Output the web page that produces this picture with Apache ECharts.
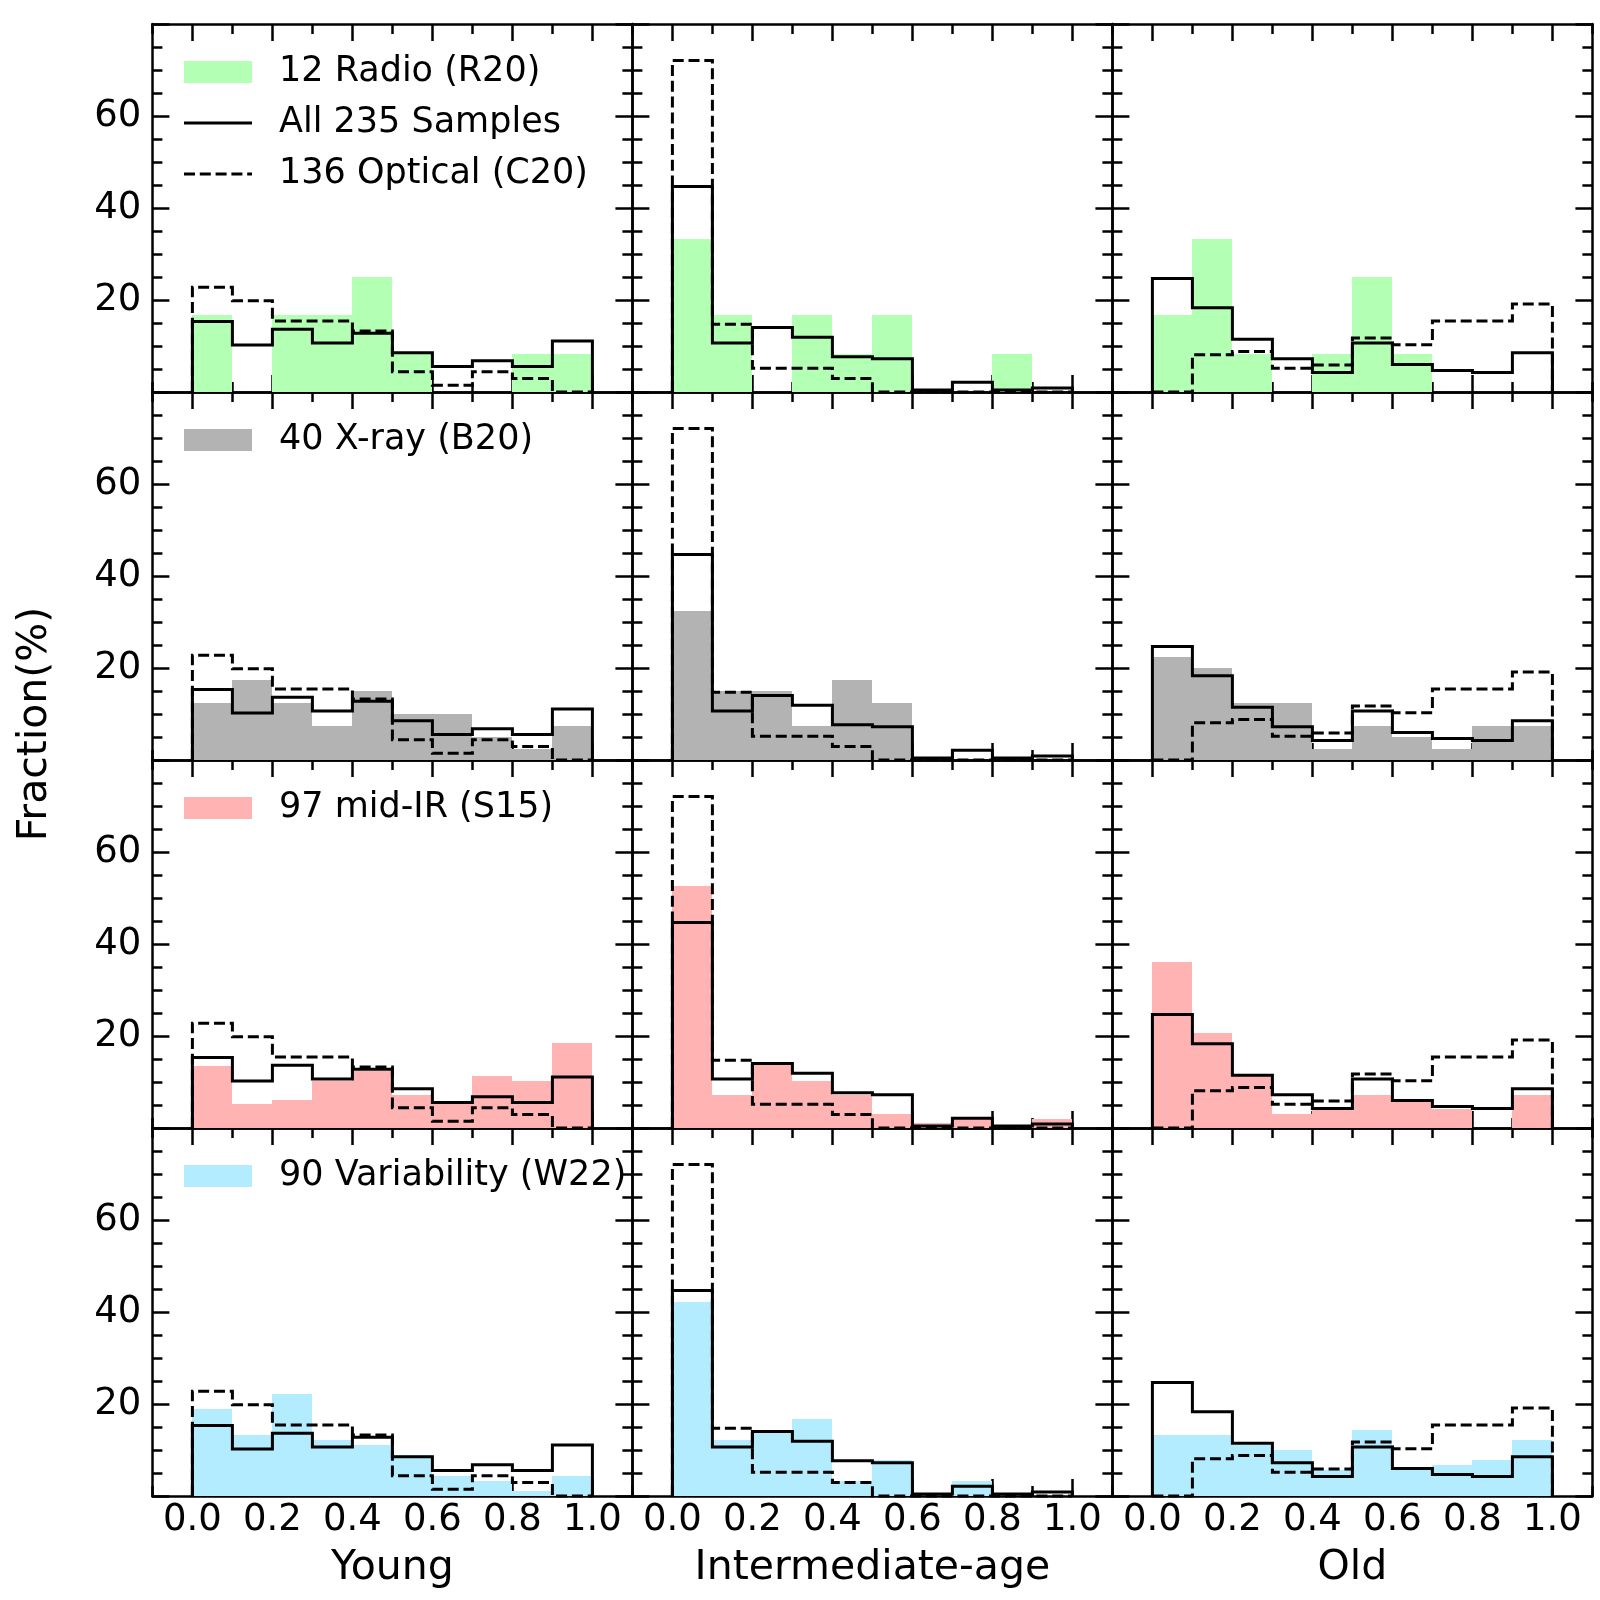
<!DOCTYPE html>
<html>
<head>
<meta charset="utf-8">
<script src="https://cdn.jsdelivr.net/npm/echarts@6/dist/echarts.min.js"></script>
<style>
html,body{margin:0;padding:0;background:#fff;}
#chart{width:1600px;height:1600px;}
</style>
</head>
<body>
<div id="chart"></div>
<script>
// ---------- data ----------
const binEdges = [0.0, 0.1, 0.2, 0.3, 0.4, 0.5, 0.6, 0.7, 0.8, 0.9, 1.0];
const columnNames = ['Young', 'Intermediate-age', 'Old'];
const xTickLabels = [0.0, 0.2, 0.4, 0.6, 0.8, 1.0];
const yTickLabels = [20, 40, 60];

// All 235 samples (solid)
const allYoung = [15.32, 10.21, 13.62, 10.64, 12.77, 8.51, 5.53, 6.81, 5.53, 11.06];
const allInter = [44.68, 10.64, 14.04, 11.91, 7.66, 7.23, 0.43, 2.13, 0.43, 0.85];
const allOld   = [24.68, 18.30, 11.49, 7.23, 4.26, 10.64, 5.96, 4.68, 4.26, 8.51];

// 136 Optical (C20) (dashed)
const optYoung = [22.79, 19.85, 15.44, 15.44, 13.24, 4.41, 1.47, 4.41, 2.94, 0];
const optInter = [72.06, 14.71, 5.15, 5.15, 2.94, 0, 0, 0, 0, 0];
const optOld   = [0, 8.09, 8.82, 5.15, 5.88, 11.76, 10.29, 15.44, 15.44, 19.12];

// 12 Radio (R20)
const radioYoung = [16.67, 0, 16.67, 16.67, 25.0, 8.33, 0, 0, 8.33, 8.33];
const radioInter = [33.33, 16.67, 0, 16.67, 8.33, 16.67, 0, 0, 8.33, 0];
const radioOld   = [16.67, 33.33, 8.33, 0, 8.33, 25.0, 8.33, 0, 0, 0];

// 40 X-ray (B20)
const xrayYoung = [12.5, 17.5, 12.5, 7.5, 15.0, 10.0, 10.0, 5.0, 2.5, 7.5];
const xrayInter = [32.5, 15.0, 15.0, 7.5, 17.5, 12.5, 0, 0, 0, 0];
const xrayOld   = [22.5, 20.0, 12.5, 12.5, 2.5, 7.5, 5.0, 2.5, 7.5, 7.5];

// 97 mid-IR (S15)
const mirYoung = [13.40, 5.15, 6.19, 10.31, 12.37, 7.22, 5.15, 11.34, 10.31, 18.56];
const mirInter = [52.58, 7.22, 14.43, 10.31, 7.22, 3.09, 1.03, 2.06, 0, 2.06];
const mirOld   = [36.08, 20.62, 11.34, 3.09, 4.12, 7.22, 6.19, 4.12, 0, 7.22];

// 90 Variability (W22)
const varYoung = [18.89, 13.33, 22.22, 12.22, 11.11, 8.89, 4.44, 3.33, 1.11, 4.44];
const varInter = [42.22, 12.22, 14.44, 16.67, 3.33, 7.78, 0, 3.33, 0, 0];
const varOld   = [13.33, 13.33, 11.11, 10.00, 5.56, 14.44, 5.56, 6.67, 7.78, 12.22];

const allName = 'All 235 Samples';
const optName = '136 Optical (C20)';
const fillNames = ['12 Radio (R20)', '40 X-ray (B20)', '97 mid-IR (S15)', '90 Variability (W22)'];
const fillColors = ['#b3ffb3', '#b3b3b3', '#ffb3b3', '#b3ecff'];
const fillData = [
  [radioYoung, radioInter, radioOld],
  [xrayYoung, xrayInter, xrayOld],
  [mirYoung, mirInter, mirOld],
  [varYoung, varInter, varOld]
];
const allData = [allYoung, allInter, allOld];
const optData = [optYoung, optInter, optOld];

// ---------- layout ----------
const FONT = 'DejaVu Sans';
const FS_TICK = 37;
const FS_LEG = 35;
const FS_LAB = 41;
const gridLefts = [152.4, 632.4, 1112.4];
const gridTops = [24, 392, 760, 1128];
const GW = 480, GH = 368;
const DASH = [11, 4.8];

// histogram outline vertices (step) in data units, built from bin edges and heights
function stepVertices(h) {
  const raw = [[binEdges[0], 0]];
  for (let i = 0; i < h.length; i++) {
    raw.push([binEdges[i], h[i]]);
    raw.push([binEdges[i + 1], h[i]]);
  }
  raw.push([binEdges[binEdges.length - 1], 0]);
  const pts = [];
  raw.forEach(p => {
    const q = pts[pts.length - 1];
    if (!q || q[0] !== p[0] || q[1] !== p[1]) pts.push(p);
  });
  return pts;
}

function outlineSeries(name, heights, axisIdx, dash) {
  const verts = stepVertices(heights);
  return {
    type: 'custom', name: name, xAxisIndex: axisIdx, yAxisIndex: axisIdx, z: 3,
    itemStyle: { color: '#000' },
    encode: { x: 0, y: 1 },
    data: verts,
    renderItem: function (params, api) {
      if (params.dataIndex !== 0) return null;
      const pts = verts.map(v => api.coord(v));
      return {
        type: 'polyline', shape: { points: pts },
        style: { stroke: '#000', lineWidth: 3, fill: null, lineDash: dash, lineJoin: 'miter', lineCap: 'butt' }
      };
    }
  };
}

const grids = [], xAxes = [], yAxes = [], series = [];
const lineC = '#000';

for (let r = 0; r < 4; r++) {
  for (let c = 0; c < 3; c++) {
    const idx = r * 3 + c;
    grids.push({ left: gridLefts[c], top: gridTops[r], width: GW, height: GH, containLabel: false });
    const baseX = (pos, showLabel) => ({
      gridIndex: idx, type: 'value', position: pos, min: -0.1, max: 1.1, interval: 0.2,
      axisLine: { show: true, onZero: false, lineStyle: { color: lineC, width: 2.5 } },
      axisTick: { show: true, inside: true, length: 10, lineStyle: { color: lineC, width: 2.5 } },
      minorTick: { show: true, splitNumber: 2, length: 17, lineStyle: { color: lineC, width: 2.5 } },
      splitLine: { show: false }, minorSplitLine: { show: false },
      axisLabel: {
        show: showLabel, customValues: xTickLabels, formatter: v => Number(v).toFixed(1),
        fontSize: FS_TICK, fontFamily: FONT, color: '#000', margin: 6
      },
      name: (showLabel ? columnNames[c] : ''), nameLocation: 'middle', nameGap: 52,
      nameTextStyle: { fontSize: FS_LAB, fontFamily: FONT, color: '#000' }
    });
    xAxes.push(baseX('bottom', r === 3));
    xAxes.push(baseX('top', false));
    const baseY = (pos, showLabel) => ({
      gridIndex: idx, type: 'value', position: pos, min: 0, max: 80, interval: 20,
      axisLine: { show: true, onZero: false, lineStyle: { color: lineC, width: 2.5 } },
      axisTick: { show: true, inside: true, length: 17, lineStyle: { color: lineC, width: 2.5 } },
      minorTick: { show: true, splitNumber: 4, length: 10, lineStyle: { color: lineC, width: 2.5 } },
      splitLine: { show: false }, minorSplitLine: { show: false },
      axisLabel: {
        show: showLabel, fontSize: FS_TICK, fontFamily: FONT, color: '#000', margin: 11,
        padding: [6, 0, 0, 0],
        formatter: v => (yTickLabels.indexOf(v) >= 0 ? String(v) : '')
      }
    });
    yAxes.push(baseY('left', c === 0));
    yAxes.push(baseY('right', false));

    const fcol = fillColors[r];
    const fh = fillData[r][c];
    series.push({
      type: 'custom', name: fillNames[r], xAxisIndex: 2 * idx, yAxisIndex: 2 * idx, z: 1,
      itemStyle: { color: fcol },
      encode: { x: [0, 1], y: 2 },
      data: fh.map((h, i) => [binEdges[i], binEdges[i + 1], h]),
      renderItem: function (params, api) {
        const p0 = api.coord([api.value(0), api.value(2)]);
        const p1 = api.coord([api.value(1), 0]);
        const x0 = Math.round(p0[0]), x1 = Math.round(p1[0]);
        const y0 = Math.round(p0[1]), y1 = Math.round(p1[1]);
        return { type: 'rect', shape: { x: x0, y: y0, width: x1 - x0, height: y1 - y0 },
                 style: { fill: fcol } };
      }
    });
    series.push(outlineSeries(allName, allData[c], 2 * idx, null));
    series.push(outlineSeries(optName, optData[c], 2 * idx, DASH));
  }
}

// legend icons for the two outline entries (thin bars, aspect kept -> centred line)
const solidIcon = 'path://M0,0H68V3H0Z';
const dashIcon = 'path://M0,0H11V3H0Z M15.8,0H26.8V3H15.8Z M31.6,0H42.6V3H31.6Z M47.4,0H58.4V3H47.4Z M63.2,0H68V3H63.2Z';

const legendBase = (top, data) => ({
  left: 184, top: top, orient: 'vertical', itemWidth: 68, itemHeight: 22, itemGap: 15,
  selectedMode: false, padding: 0, symbolKeepAspect: true, data: data,
  textStyle: { fontSize: FS_LEG, fontFamily: FONT, color: '#000', lineHeight: 36, padding: [0, 0, 0, 22] }
});
const legends = [
  legendBase(54, [
    { name: fillNames[0], icon: 'rect' },
    { name: allName, icon: solidIcon },
    { name: optName, icon: dashIcon }
  ]),
  legendBase(422, [{ name: fillNames[1], icon: 'rect' }]),
  legendBase(790, [{ name: fillNames[2], icon: 'rect' }]),
  legendBase(1158, [{ name: fillNames[3], icon: 'rect' }])
];

const chart = echarts.init(document.getElementById('chart'), null, { renderer: 'canvas' });
chart.setOption({
  animation: false,
  backgroundColor: '#fff',
  grid: grids, xAxis: xAxes, yAxis: yAxes, series: series, legend: legends,
  graphic: [{
    type: 'text', x: 35, y: 724, rotation: Math.PI / 2,
    style: { text: 'Fraction(%)', font: FS_LAB + 'px "' + FONT + '"', fill: '#000', align: 'center', verticalAlign: 'middle' }
  }]
});
</script>
</body>
</html>
